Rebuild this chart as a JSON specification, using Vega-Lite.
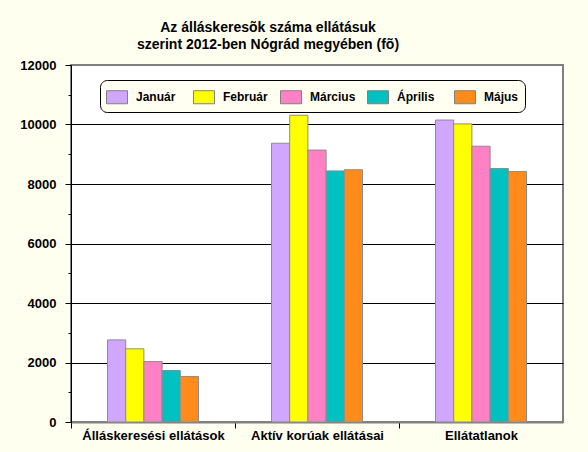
{
 "$schema": "https://vega.github.io/schema/vega-lite/v6.json",
 "autosize": "none",
 "width": 492,
 "height": 357,
 "padding": {"left": 71, "top": 65, "right": 25, "bottom": 30},
 "background": "#FFFFF0",
 "title": {"text": ["Az álláskeresõk száma ellátásuk", "szerint 2012-ben Nógrád megyében (fõ)"], "font": "Liberation Sans", "fontSize": 14, "fontWeight": "bold", "color": "black", "lineHeight": 17, "dx": -49, "offset": 7, "anchor": "middle"},
 "data": {"values": [
  {"kategoria": "Álláskeresési ellátások", "honap": "Január", "fo": 2760},
  {"kategoria": "Álláskeresési ellátások", "honap": "Február", "fo": 2460},
  {"kategoria": "Álláskeresési ellátások", "honap": "Március", "fo": 2030},
  {"kategoria": "Álláskeresési ellátások", "honap": "Április", "fo": 1730},
  {"kategoria": "Álláskeresési ellátások", "honap": "Május", "fo": 1530},
  {"kategoria": "Aktív korúak ellátásai", "honap": "Január", "fo": 9370},
  {"kategoria": "Aktív korúak ellátásai", "honap": "Február", "fo": 10310},
  {"kategoria": "Aktív korúak ellátásai", "honap": "Március", "fo": 9140},
  {"kategoria": "Aktív korúak ellátásai", "honap": "Április", "fo": 8440},
  {"kategoria": "Aktív korúak ellátásai", "honap": "Május", "fo": 8480},
  {"kategoria": "Ellátatlanok", "honap": "Január", "fo": 10150},
  {"kategoria": "Ellátatlanok", "honap": "Február", "fo": 10020},
  {"kategoria": "Ellátatlanok", "honap": "Március", "fo": 9270},
  {"kategoria": "Ellátatlanok", "honap": "Április", "fo": 8520},
  {"kategoria": "Ellátatlanok", "honap": "Május", "fo": 8420}
 ]},
 "mark": {"type": "bar", "stroke": "#8c8c8c", "strokeWidth": 1},
 "encoding": {
  "x": {"field": "kategoria", "type": "nominal", "sort": ["Álláskeresési ellátások", "Aktív korúak ellátásai", "Ellátatlanok"], "scale": {"paddingInner": 0.445, "paddingOuter": 0.2225},
   "axis": {"title": null, "labelAngle": 0, "labelFont": "Liberation Sans", "labelFontSize": 13, "labelFontWeight": "bold", "labelColor": "black", "domainColor": "#808080", "domainWidth": 2, "tickColor": "black", "tickSize": 6, "tickOffset": -82, "labelOffset": 82, "labelPadding": 1}},
  "xOffset": {"field": "honap", "type": "nominal", "sort": ["Január", "Február", "Március", "Április", "Május"], "scale": {"paddingInner": 0, "paddingOuter": 0}},
  "y": {"field": "fo", "type": "quantitative", "scale": {"domain": [0, 12000], "nice": false},
   "axis": {"title": null, "values": [0, 1000, 2000, 3000, 4000, 5000, 6000, 7000, 8000, 9000, 10000, 11000, 12000], "labelExpr": "datum.value % 2000 == 0 ? datum.label : ''", "format": "d", "labelFont": "Liberation Sans", "labelFontSize": 13, "labelFontWeight": "bold", "labelColor": "black", "labelPadding": 9, "domainColor": "black", "tickColor": "black", "tickSize": {"condition": {"test": "datum.value % 2000 == 0", "value": 6}, "value": 3}, "grid": true, "gridColor": "black", "gridOpacity": {"condition": {"test": "datum.value % 2000 == 0 && datum.value > 0 && datum.value < 12000", "value": 1}, "value": 0}}},
  "color": {"field": "honap", "type": "nominal", "sort": ["Január", "Február", "Március", "Április", "Május"],
   "scale": {"domain": ["Január", "Február", "Március", "Április", "Május"], "range": ["#D0A6FF", "#FFFF00", "#FF80C4", "#00C0C0", "#FF8C1A"]},
   "legend": {"title": null, "orient": "none", "legendX": 29, "legendY": 15, "direction": "horizontal", "columns": 5, "gridAlign": "all", "symbolType": "M-1,-0.62H1V0.62H-1Z", "symbolSize": 441, "symbolStrokeColor": "#808080", "symbolStrokeWidth": 1, "symbolOpacity": 1, "labelFont": "Liberation Sans", "labelFontSize": 12, "labelFontWeight": "bold", "labelColor": "black", "labelOffset": 8, "columnPadding": 9, "padding": 6, "strokeColor": "black", "fillColor": "#FFFFF2", "cornerRadius": 7}}
 },
 "config": {"view": {"fill": "white", "stroke": "#808080", "strokeWidth": 2}}
}
